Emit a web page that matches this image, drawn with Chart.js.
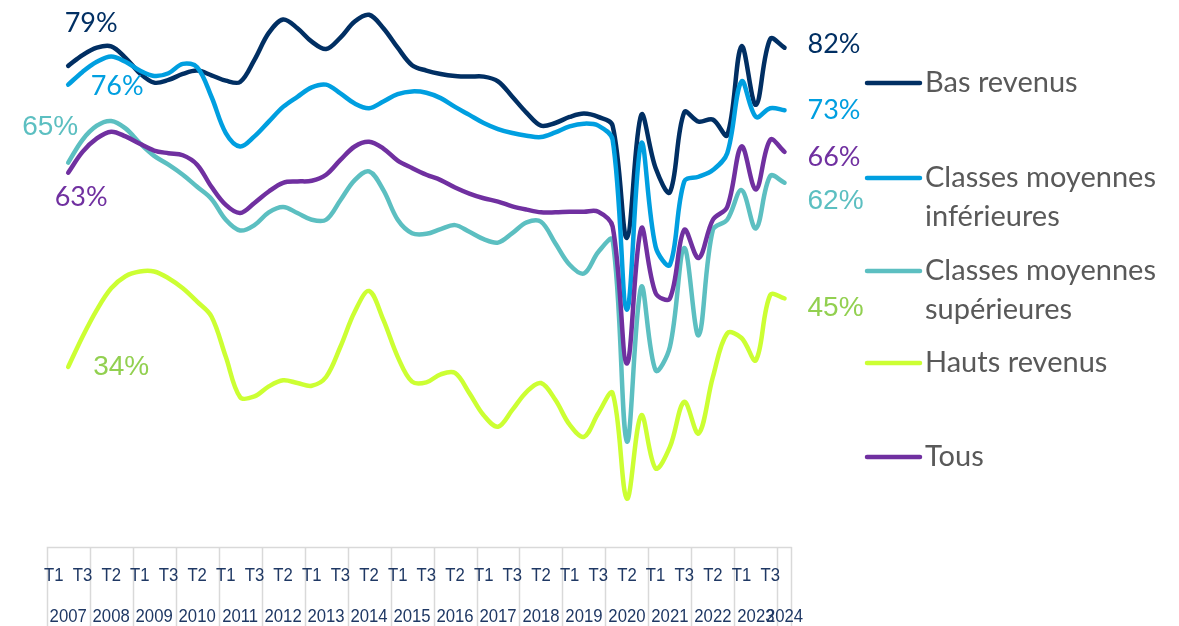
<!DOCTYPE html>
<html>
<head>
<meta charset="utf-8">
<script src="https://cdn.jsdelivr.net/npm/chart.js@4/dist/chart.umd.min.js"></script>
<style>
  html, body { margin: 0; padding: 0; background: #fff; }
  #wrap { position: relative; width: 1179px; height: 626px; }
</style>
</head>
<body>
<div id="wrap"><canvas id="c" width="1179" height="626"></canvas></div>
<script>
// Trimestres (T1-T3 par année, 2007 -> T1 2024)
const categories = [
  'T1 2007','T2 2007','T3 2007','T1 2008','T2 2008','T3 2008','T1 2009','T2 2009','T3 2009',
  'T1 2010','T2 2010','T3 2010','T1 2011','T2 2011','T3 2011','T1 2012','T2 2012','T3 2012',
  'T1 2013','T2 2013','T3 2013','T1 2014','T2 2014','T3 2014','T1 2015','T2 2015','T3 2015',
  'T1 2016','T2 2016','T3 2016','T1 2017','T2 2017','T3 2017','T1 2018','T2 2018','T3 2018',
  'T1 2019','T2 2019','T3 2019','T1 2020','T2 2020','T3 2020','T1 2021','T2 2021','T3 2021',
  'T1 2022','T2 2022','T3 2022','T1 2023','T2 2023','T3 2023','T1 2024'
];
const years = ['2007','2008','2009','2010','2011','2012','2013','2014','2015','2016','2017','2018','2019','2020','2021','2022','2023','2024'];

const basRevenus = [null, 79.2, 80.8, 81.9, 82.1, 80.4, 78.1, 76.7, 77.1, 78.0, 78.5, 77.8, 77.0, 76.8, 80.1, 84.1, 86.1, 84.8,
  82.8, 81.7, 83.4, 85.8, 86.8, 84.8, 81.9, 79.3, 78.5, 78.0, 77.7, 77.6, 77.6, 76.9, 74.6, 72.2, 70.3, 70.7,
  71.6, 72.1, 71.6, 70.3, 53.6, 71.9, 64.0, 60.4, 72.3, 70.9, 71.2, 68.9, 82.1, 73.4, 83.2, 81.9];
const moyInf = [null, 76.4, 78.3, 79.8, 80.6, 79.8, 78.5, 77.7, 78.1, 79.5, 79.0, 74.6, 69.2, 67.2, 68.7, 70.9, 73.1, 74.6,
  76.0, 76.4, 75.1, 73.6, 72.9, 73.9, 75.0, 75.4, 75.2, 74.4, 73.1, 71.9, 70.7, 69.8, 69.2, 68.8, 68.6, 69.3,
  70.2, 70.6, 70.3, 68.2, 42.9, 67.7, 52.3, 49.6, 62.0, 62.7, 63.7, 66.2, 76.9, 71.6, 72.9, 72.6];
const moySup = [null, 64.8, 68.2, 70.3, 71.0, 69.9, 67.7, 65.8, 64.5, 63.0, 61.2, 59.4, 56.3, 54.7, 55.5, 57.4, 58.2, 57.3,
  56.3, 56.3, 59.2, 62.2, 63.5, 60.7, 56.3, 54.3, 54.2, 54.9, 55.5, 54.5, 53.4, 52.9, 54.3, 55.9, 56.0, 52.8,
  49.6, 48.3, 51.5, 53.3, 23.3, 46.3, 33.9, 37.4, 52.1, 39.1, 54.8, 56.3, 60.7, 55.0, 62.8, 61.8];
const hautsRevenus = [null, 34.4, 38.9, 42.9, 46.1, 47.9, 48.6, 48.6, 47.6, 46.1, 44.1, 41.9, 35.9, 29.9, 30.0, 31.5, 32.4, 32.0,
  31.6, 32.9, 37.4, 42.6, 45.7, 41.4, 35.9, 32.2, 32.1, 33.3, 33.5, 30.5, 27.2, 25.5, 28.0, 30.7, 32.0, 29.5,
  25.8, 24.0, 27.5, 30.5, 14.8, 27.2, 19.3, 22.5, 29.2, 24.5, 32.9, 39.4, 38.7, 35.4, 45.1, 44.6];
const tous = [null, 63.3, 66.4, 68.4, 69.4, 68.7, 67.6, 66.6, 66.2, 65.9, 64.5, 61.2, 58.5, 57.3, 58.8, 60.5, 61.8, 62.0,
  62.1, 63.0, 65.2, 67.2, 67.9, 66.9, 65.1, 64.0, 63.0, 62.2, 61.1, 60.2, 59.5, 59.0, 58.3, 57.8, 57.4, 57.4,
  57.5, 57.5, 57.5, 55.3, 34.9, 55.0, 45.4, 44.6, 54.8, 50.6, 56.3, 58.2, 67.2, 60.8, 68.2, 66.4];

const series = [
  { label: 'Bas revenus', lines: ['Bas revenus'], data: basRevenus, color: '#012f63', text: '#012f63',
    font: '27px Lato', first: [23, -43], last: [23, -3] },
  { label: 'Classes moyennes inférieures', lines: ['Classes moyennes', 'inférieures'], data: moyInf, color: '#009fe0', text: '#009fe0',
    font: '27px Lato', first: [49, 2], last: [23, 0] },
  { label: 'Classes moyennes supérieures', lines: ['Classes moyennes', 'supérieures'], data: moySup, color: '#5cbfc1', text: '#5cbfc1',
    font: '28px "Liberation Sans"', first: [-18, -35], last: [23, 18] },
  { label: 'Hauts revenus', lines: ['Hauts revenus'], data: hautsRevenus, color: '#ccff33', text: '#92d050',
    font: '28px "Liberation Sans"', first: [53, 0], last: [23, 10] },
  { label: 'Tous', lines: ['Tous'], data: tous, color: '#7030a0', text: '#7030a0',
    font: '27px Lato', first: [13, 25], last: [23, 5] }
];
const legendRows = [83, 178, 271, 363, 457];

// axe des catégories dessiné à la main (deux niveaux)
const axisPlugin = {
  id: 'axis2',
  afterDraw(chart) {
    const ctx = chart.ctx, x = chart.scales.x, a = chart.chartArea;
    const w = (a.right - a.left) / categories.length;
    const top = a.bottom;
    ctx.save();
    ctx.strokeStyle = '#d9d9d9';
    ctx.lineWidth = 1.5;
    ctx.beginPath();
    ctx.moveTo(a.left, top + 0.5); ctx.lineTo(a.right, top + 0.5);
    years.forEach((y, k) => {
      const bx = Math.round(a.left + k * 3 * w) + 0.5;
      ctx.moveTo(bx, top); ctx.lineTo(bx, chart.height);
    });
    ctx.moveTo(Math.round(a.right) - 0.5, top); ctx.lineTo(Math.round(a.right) - 0.5, chart.height);
    ctx.stroke();

    // texte un peu étiré en hauteur comme l'original
    const sx = 0.88;
    ctx.fillStyle = '#1f3864';
    ctx.font = '19px "Liberation Sans"';
    ctx.textAlign = 'center';
    ctx.textBaseline = 'middle';
    const put = (t, px, py) => {
      ctx.save();
      ctx.translate(px, py);
      ctx.scale(sx, 1);
      ctx.fillText(t, 0, 0);
      ctx.restore();
    };
    categories.forEach((c, i) => {
      if (i % 2 === 0) put(c.split(' ')[0], x.getPixelForValue(i), top + 29);
    });
    years.forEach((y) => {
      const idx = categories.map((c, i) => c.endsWith(y) ? i : -1).filter(i => i >= 0);
      const cx = (x.getPixelForValue(idx[0]) + x.getPixelForValue(idx[idx.length - 1])) / 2;
      put(y, cx, top + 70);
    });
    ctx.restore();
  }
};

// étiquettes de début / fin + légende
const labelPlugin = {
  id: 'labels2',
  afterDraw(chart) {
    const ctx = chart.ctx, x = chart.scales.x, y = chart.scales.y;
    ctx.save();
    ctx.textBaseline = 'middle';
    series.forEach((s, si) => {
      const i0 = s.data.findIndex(v => v !== null);
      const i1 = s.data.length - 1;
      ctx.fillStyle = s.text;
      ctx.font = s.font;
      ctx.textAlign = 'center';
      ctx.fillText(Math.round(s.data[i0]) + '%', x.getPixelForValue(i0) + s.first[0], y.getPixelForValue(s.data[i0]) + s.first[1]);
      ctx.textAlign = 'left';
      ctx.fillText(Math.round(s.data[i1]) + '%', x.getPixelForValue(i1) + s.last[0], y.getPixelForValue(s.data[i1]) + s.last[1]);

      // légende
      const ly = legendRows[si];
      ctx.strokeStyle = s.color;
      ctx.lineWidth = 4.5;
      ctx.lineCap = 'round';
      ctx.beginPath();
      ctx.moveTo(867, ly); ctx.lineTo(920, ly);
      ctx.stroke();
      ctx.fillStyle = '#595959';
      ctx.font = '29px Lato';
      s.lines.forEach((t, k) => ctx.fillText(t, 925, ly + k * 38.5));
    });
    ctx.restore();
  }
};

new Chart(document.getElementById('c'), {
  type: 'line',
  data: {
    labels: categories,
    datasets: series.map((s, i) => ({
      label: s.label,
      data: s.data,
      borderColor: s.color,
      backgroundColor: s.color,
      borderWidth: 4.5,
      pointRadius: 0,
      tension: 0.35,
      borderCapStyle: 'round',
      borderJoinStyle: 'round',
      clip: false,
      order: series.length - i
    }))
  },
  options: {
    responsive: false,
    animation: false,
    layout: { padding: { left: 46.7, right: 387.3, top: 0, bottom: 79 } },
    plugins: { legend: { display: false }, tooltip: { enabled: false } },
    scales: {
      x: { display: false, offset: true },
      y: { display: false, min: 7.6, max: 89.0 }
    }
  },
  plugins: [axisPlugin, labelPlugin]
});
</script>
</body>
</html>
